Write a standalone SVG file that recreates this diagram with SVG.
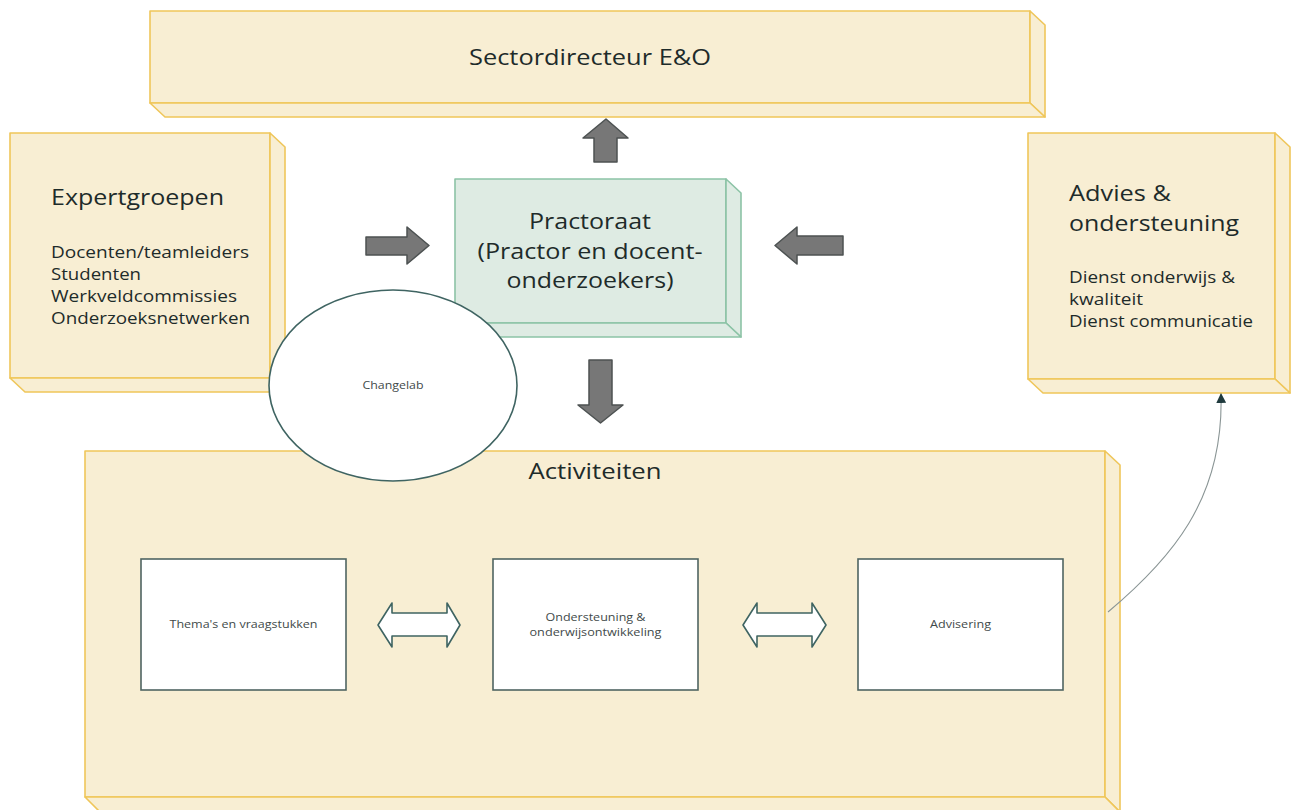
<svg xmlns="http://www.w3.org/2000/svg" width="1297" height="810" viewBox="0 0 1297 810">
<defs>
<style>
.yb{fill:#f8eed3;stroke:#efc65a;stroke-width:1.6;stroke-linejoin:round}
.gb{fill:#deebe3;stroke:#8cc3a6;stroke-width:1.6;stroke-linejoin:round}
.t{font-family:"Open Sans","Noto Sans",sans-serif;fill:#1e2b2a}
.big{font-size:22px}
.mid{font-size:17px}
.sm{font-size:10px;fill:#3f4a4a}
.blk{fill:#777777;stroke:#4d5252;stroke-width:1.5;stroke-linejoin:round}
.dbl{fill:#ffffff;stroke:#3f6462;stroke-width:1.6;stroke-linejoin:round}
.ib{fill:#ffffff;stroke:#4f6462;stroke-width:1.6}
.con{fill:none;stroke:#8a9595;stroke-width:1.1}
</style>
<marker id="ah" viewBox="0 0 10 10" refX="9" refY="5" markerWidth="10" markerHeight="10" markerUnits="userSpaceOnUse" orient="auto">
<path d="M0,0 L10,5 L0,10 Z" fill="#1f3a3d"/>
</marker>
</defs>

<g id="sectordirecteur">
<rect class="yb" x="150" y="11" width="880" height="92"/>
<polygon class="yb" points="1030,11 1045,25 1045,117 1030,103"/>
<polygon class="yb" points="150,103 1030,103 1045,117 165,117"/>
<text class="t big" x="590" y="65" text-anchor="middle" textLength="242" lengthAdjust="spacingAndGlyphs">Sectordirecteur E&amp;O</text>
</g>

<g id="activiteiten">
<rect class="yb" x="85" y="451" width="1020" height="346"/>
<polygon class="yb" points="1105,451 1120,465 1120,812 1105,797"/>
<polygon class="yb" points="85,797 1105,797 1120,812 100,812"/>
<text class="t big" x="595" y="479" text-anchor="middle" textLength="133" lengthAdjust="spacingAndGlyphs">Activiteiten</text>
</g>

<g id="expertgroepen">
<rect class="yb" x="10" y="133" width="260" height="245"/>
<polygon class="yb" points="270,133 285,147 285,392 270,378"/>
<polygon class="yb" points="10,378 270,378 285,392 25,392"/>
<text class="t big" x="51" y="205" textLength="173" lengthAdjust="spacingAndGlyphs">Expertgroepen</text>
<text class="t mid" x="51" y="258" textLength="198" lengthAdjust="spacingAndGlyphs">Docenten/teamleiders</text>
<text class="t mid" x="51" y="280" textLength="90" lengthAdjust="spacingAndGlyphs">Studenten</text>
<text class="t mid" x="51" y="302" textLength="186" lengthAdjust="spacingAndGlyphs">Werkveldcommissies</text>
<text class="t mid" x="51" y="324" textLength="199" lengthAdjust="spacingAndGlyphs">Onderzoeksnetwerken</text>
</g>

<g id="advies">
<rect class="yb" x="1028" y="133" width="247" height="246"/>
<polygon class="yb" points="1275,133 1290,147 1290,393 1275,379"/>
<polygon class="yb" points="1028,379 1275,379 1290,393 1043,393"/>
<text class="t big" x="1069" y="201" textLength="102" lengthAdjust="spacingAndGlyphs">Advies &amp;</text>
<text class="t big" x="1069" y="231" textLength="170" lengthAdjust="spacingAndGlyphs">ondersteuning</text>
<text class="t mid" x="1069" y="283" textLength="166" lengthAdjust="spacingAndGlyphs">Dienst onderwijs &amp;</text>
<text class="t mid" x="1069" y="305" textLength="74" lengthAdjust="spacingAndGlyphs">kwaliteit</text>
<text class="t mid" x="1069" y="327" textLength="184" lengthAdjust="spacingAndGlyphs">Dienst communicatie</text>
</g>

<g id="practoraat">
<rect class="gb" x="455" y="179" width="271" height="144"/>
<polygon class="gb" points="726,179 741,193 741,337 726,323"/>
<polygon class="gb" points="455,323 726,323 741,337 470,337"/>
<text class="t big" x="590" y="229" text-anchor="middle" textLength="122" lengthAdjust="spacingAndGlyphs">Practoraat</text>
<text class="t big" x="590" y="259" text-anchor="middle" textLength="225" lengthAdjust="spacingAndGlyphs">(Practor en docent-</text>
<text class="t big" x="590" y="288" text-anchor="middle" textLength="167" lengthAdjust="spacingAndGlyphs">onderzoekers)</text>
</g>

<g id="themas">
<rect class="ib" x="141" y="559" width="205" height="131"/>
<text class="t sm" x="243.5" y="628" text-anchor="middle" textLength="148" lengthAdjust="spacingAndGlyphs">Thema's en vraagstukken</text>
</g>

<g id="ondersteuning">
<rect class="ib" x="493" y="559" width="205" height="131"/>
<text class="t sm" x="595.5" y="621" text-anchor="middle" textLength="100" lengthAdjust="spacingAndGlyphs">Ondersteuning &amp;</text>
<text class="t sm" x="595.5" y="636" text-anchor="middle" textLength="132" lengthAdjust="spacingAndGlyphs">onderwijsontwikkeling</text>
</g>

<g id="advisering">
<rect class="ib" x="858" y="559" width="205" height="131"/>
<text class="t sm" x="960.5" y="628" text-anchor="middle" textLength="61" lengthAdjust="spacingAndGlyphs">Advisering</text>
</g>

<g id="changelab">
<ellipse cx="393" cy="385.5" rx="124" ry="95.5" fill="#ffffff" stroke="#3f6462" stroke-width="1.6"/>
<text class="t sm" x="393" y="389" text-anchor="middle" textLength="61" lengthAdjust="spacingAndGlyphs">Changelab</text>
</g>

<g id="connectors">
<polygon class="blk" points="606,119 628,138 617,138 617,162 594,162 594,138 583,138"/>
<polygon class="blk" points="366,237 407,237 407,227 429,245.5 407,264 407,255 366,255"/>
<polygon class="blk" points="843,236 797,236 797,227 775,245.5 797,264 797,255 843,255"/>
<polygon class="blk" points="589,360 612,360 612,405 623,405 600.5,423 578,405 589,405"/>
<polygon class="dbl" points="378,625 392,603 392,613 447,613 447,603 460,625 447,647 447,636 392,636 392,647"/>
<polygon class="dbl" points="743,625 757,603 757,613 812,613 812,603 826,625 812,647 812,636 757,636 757,647"/>
<path class="con" d="M1108,612 C1170,560 1224,500 1221,394" marker-end="url(#ah)"/>
</g>
</svg>
